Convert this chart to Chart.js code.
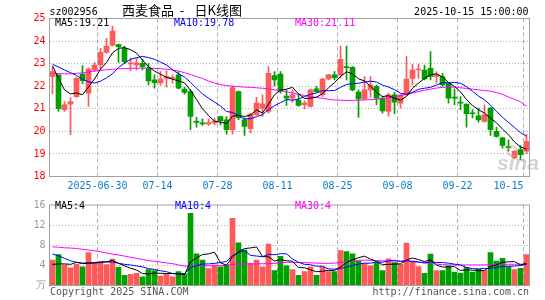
<!DOCTYPE html>
<html><head><meta charset="utf-8">
<script src="https://cdn.jsdelivr.net/npm/chart.js@4/dist/chart.umd.min.js"></script>
<style>
html,body{margin:0;padding:0;background:#fff;}
#wrap{position:relative;width:545px;height:300px;overflow:hidden;background:#fff;}
canvas{position:absolute;left:0;}
#c1{top:0;width:545px;height:195px;}
#c2{top:195px;width:545px;height:105px;}
</style></head><body>
<div id="wrap"><canvas id="c1" width="545" height="195"></canvas><canvas id="c2" width="545" height="105"></canvas></div>
<script>
const dates = ['06-18','06-19','06-20','06-23','06-24','06-25','06-26','06-27','06-30','07-01','07-02','07-03','07-04','07-07','07-08','07-09','07-10','07-11','07-14','07-15','07-16','07-17','07-18','07-21','07-22','07-23','07-24','07-25','07-28','07-29','07-30','07-31','08-01','08-04','08-05','08-06','08-07','08-08','08-11','08-12','08-13','08-14','08-15','08-18','08-19','08-20','08-21','08-22','08-25','08-26','08-27','08-28','08-29','09-01','09-02','09-03','09-04','09-05','09-08','09-09','09-10','09-11','09-12','09-15','09-16','09-17','09-18','09-19','09-22','09-23','09-24','09-25','09-26','09-29','09-30','10-09','10-10','10-13','10-14','10-15'];

const openP = [22.43,22.50,20.96,21.21,21.54,22.54,21.69,22.72,22.94,23.50,
23.82,23.85,23.68,22.99,22.94,23.01,22.82,22.28,22.15,22.35,
22.35,22.50,21.87,21.76,20.43,20.35,20.32,20.37,20.66,20.51,
20.07,21.76,20.51,20.12,20.74,21.03,20.88,22.47,22.54,21.56,
21.47,21.37,21.18,21.10,21.88,21.62,22.32,22.50,22.50,22.87,
22.84,21.74,21.44,21.84,21.99,21.47,20.88,21.62,21.25,21.62,
22.35,22.72,22.72,22.79,22.43,22.43,22.13,21.50,21.28,21.21,
20.81,20.69,20.44,21.03,20.00,19.71,19.31,18.82,19.19,19.12];

const highP = [22.85,22.52,21.32,21.50,22.40,22.91,22.80,23.05,23.68,24.12,
24.66,23.87,23.78,23.25,23.24,23.20,23.00,22.50,22.65,22.68,
22.50,22.65,21.95,21.85,20.62,20.56,20.56,20.59,20.66,20.66,
21.99,21.78,20.60,20.80,21.51,21.62,22.87,22.65,22.65,21.84,
21.84,21.69,21.35,21.88,21.99,22.35,22.53,22.65,23.78,23.78,
22.87,21.84,22.43,22.43,22.06,21.54,21.69,21.74,21.65,23.31,
22.97,22.97,22.94,23.53,22.65,22.57,22.13,21.88,21.54,21.21,
20.96,21.03,21.18,21.06,20.18,19.74,19.63,19.15,19.37,19.88];

const lowP = [21.66,20.88,20.88,19.85,21.50,22.10,21.10,22.65,22.72,23.46,
23.78,23.05,23.00,22.69,22.72,22.72,22.06,21.91,22.03,21.96,
22.13,21.88,21.65,20.07,20.19,20.26,20.26,20.29,20.29,19.88,
19.88,20.52,19.82,19.93,20.72,20.66,20.81,22.01,21.69,21.15,
21.28,21.10,20.99,21.07,21.73,21.54,22.28,22.28,22.35,22.28,
21.79,20.62,21.40,21.50,21.18,20.81,20.66,20.78,21.03,21.59,
22.06,22.35,22.28,22.28,22.13,21.99,21.25,21.18,20.96,20.18,
20.59,20.41,20.41,19.82,19.74,19.26,19.12,18.79,18.75,19.00];

const closeP = [22.65,21.00,21.18,21.32,22.35,22.25,22.76,22.94,23.50,23.78,
24.44,23.75,23.09,23.04,23.04,22.87,22.24,22.16,22.32,22.43,
22.38,21.91,21.72,20.66,20.40,20.33,20.39,20.46,20.47,20.07,
21.94,20.59,20.22,20.76,21.25,21.22,22.57,22.28,21.79,21.47,
21.62,21.15,21.25,21.84,21.76,22.32,22.50,22.38,23.19,22.82,
21.84,21.44,21.84,22.06,21.47,20.91,21.62,21.29,21.62,22.32,
22.72,22.76,22.32,22.43,22.50,22.06,21.47,21.47,21.25,20.78,
20.78,20.51,20.74,20.07,19.78,19.38,19.28,19.12,18.97,19.56];

const ma5 = [22.90,22.35,21.84,21.66,21.70,21.62,21.97,22.32,22.76,23.05,
23.48,23.68,23.71,23.62,23.47,23.16,22.86,22.67,22.53,22.40,
22.31,22.24,22.15,21.82,21.41,21.00,20.70,20.45,20.41,20.34,
20.67,20.71,20.66,20.72,20.95,20.81,21.20,21.62,21.82,21.87,
21.95,21.66,21.46,21.47,21.52,21.66,21.93,22.16,22.43,22.64,
22.55,22.33,22.23,22.00,21.73,21.54,21.58,21.47,21.38,21.55,
21.91,22.14,22.35,22.51,22.55,22.41,22.16,21.99,21.75,21.41,
21.15,20.96,20.81,20.58,20.38,20.10,19.85,19.53,19.31,19.21];

const ma10 = [22.97,22.85,22.72,22.60,22.48,22.30,22.20,22.14,22.22,22.37,
22.55,22.83,23.02,23.19,23.26,23.32,23.27,23.19,23.07,22.94,
22.73,22.55,22.41,22.17,21.91,21.66,21.47,21.30,21.12,20.88,
20.84,20.70,20.55,20.56,20.65,20.74,20.96,21.14,21.27,21.41,
21.38,21.43,21.54,21.64,21.70,21.81,21.80,21.81,21.95,22.08,
22.11,22.13,22.19,22.22,22.19,22.05,21.96,21.85,21.69,21.64,
21.73,21.86,21.91,21.95,22.05,22.16,22.15,22.17,22.13,21.98,
21.78,21.56,21.40,21.16,20.89,20.62,20.40,20.17,19.94,19.78];

const ma30 = [22.56,22.56,22.55,22.55,22.57,22.59,22.63,22.67,22.70,22.73,
22.75,22.77,22.78,22.79,22.80,22.80,22.80,22.79,22.78,22.75,
22.72,22.67,22.60,22.52,22.43,22.34,22.23,22.14,22.07,22.03,
22.00,21.98,21.96,21.95,21.93,21.91,21.88,21.84,21.80,21.75,
21.70,21.64,21.59,21.54,21.50,21.46,21.42,21.39,21.38,21.37,
21.37,21.38,21.39,21.40,21.42,21.45,21.49,21.53,21.58,21.64,
21.70,21.76,21.82,21.87,21.92,21.95,21.96,21.96,21.93,21.90,
21.87,21.84,21.81,21.78,21.72,21.64,21.52,21.42,21.31,21.11];

const volume = [5.04,6.17,4.10,3.53,4.22,3.72,6.55,4.54,4.54,4.16,
5.23,3.59,2.02,2.21,2.40,1.70,3.15,2.97,1.89,2.21,
1.70,2.78,2.34,14.36,6.30,5.04,3.34,4.04,3.72,4.04,
13.35,8.50,7.06,4.42,5.04,3.72,8.25,2.97,5.80,3.91,
3.15,2.02,2.78,3.72,2.02,3.72,2.78,2.78,6.93,6.74,
6.31,4.85,4.35,3.91,4.54,2.97,5.29,4.54,4.22,8.44,
4.85,3.78,2.40,6.24,2.97,2.97,3.91,2.65,2.46,3.59,
2.65,3.28,2.97,6.55,4.85,5.42,3.78,3.15,3.40,6.17];

const volMa5 = [4.20,4.30,4.30,4.20,4.61,4.35,4.42,4.51,4.71,4.70,
5.00,4.41,3.91,3.44,3.09,2.38,2.30,2.49,2.42,2.38,
2.38,2.31,2.18,4.68,5.50,6.16,6.28,6.62,4.49,4.04,
5.70,6.73,7.33,7.47,7.67,5.75,5.70,4.88,5.16,4.93,
4.82,3.57,3.53,3.12,2.74,2.85,3.00,3.00,3.65,4.59,
5.11,5.52,5.84,5.23,4.79,4.12,4.21,4.25,4.31,5.09,
5.47,5.17,4.74,5.14,4.05,3.67,3.70,3.75,2.99,3.12,
3.05,2.93,2.99,3.81,4.06,4.61,4.71,4.75,4.12,4.38];

const volMa10 = [6.25,5.90,5.40,4.90,4.60,4.45,4.50,4.50,4.55,4.66,
4.68,4.42,4.21,4.08,3.90,3.69,3.35,3.20,2.93,2.74,
2.38,2.30,2.34,3.55,3.94,4.27,4.29,4.40,4.58,4.77,
5.93,6.50,6.98,5.98,5.86,5.72,6.21,6.11,6.32,6.30,
5.28,4.63,4.21,4.14,3.83,3.83,3.29,3.27,3.38,3.66,
3.98,4.26,4.42,4.44,4.69,4.62,4.87,5.04,4.77,4.94,
4.80,4.69,4.49,4.73,4.57,4.57,4.43,4.24,4.07,3.58,
3.36,3.31,3.37,3.40,3.59,3.83,3.82,3.87,3.96,4.22];

const volMa30 = [7.69,7.60,7.50,7.45,7.35,7.20,7.05,6.90,6.70,6.45,
6.25,6.05,5.85,5.60,5.40,5.15,4.95,4.80,4.65,4.50,
4.35,4.10,3.85,3.90,3.92,3.92,3.92,3.92,3.95,4.00,
4.20,4.22,4.25,4.28,4.30,4.32,4.35,4.40,4.55,4.60,
4.60,4.58,4.55,4.50,4.45,4.40,4.40,4.45,4.55,4.70,
4.85,5.00,5.05,5.00,4.95,4.90,4.85,4.85,4.85,4.80,
4.70,4.60,4.50,4.40,4.25,4.15,4.10,4.09,4.09,4.09,
4.09,4.09,4.10,4.15,4.20,4.22,4.22,4.22,4.22,4.22];

const dateTickIndex = [8,18,28,38,48,58,68,79];
const dateTickText = ['2025-06-30','07-14','07-28','08-11','08-25','09-08','09-22','10-15'];
const priceRange = [18, 25];
const volumeRange = [0, 16];

const UP = '#ff5a5a', DOWN = '#00a000';
const MONO = '"DejaVu Sans Mono","Liberation Mono",monospace';
const CJK = '"Noto Sans CJK SC","Noto Sans",sans-serif';
const colors = closeP.map((c,i) => c >= openP[i] ? UP : DOWN);
const NONE = 'rgba(0,0,0,0)';

function frame(chart){
  const {ctx, chartArea:a} = chart;
  ctx.save();
  ctx.strokeStyle = '#a0a0a0'; ctx.lineWidth = 1;
  ctx.strokeRect(a.left, a.top, a.right - a.left, a.bottom - a.top);
  ctx.restore();
}
function txt(ctx, s, x, y, color, font, align){
  ctx.font = font; ctx.fillStyle = color; ctx.textAlign = align || 'left'; ctx.textBaseline = 'middle';
  ctx.fillText(s, x, y);
}

const xScaleBase = (dashArr) => ({
  type:'category', offset:true,
  grid:{offset:true, drawTicks:false, lineWidth:1,
    color: c => dateTickIndex.includes(c.index) ? '#b0b0b0' : NONE},
  border:{display:false, dash:dashArr},
  ticks:{display:false, autoSkip:false},
  afterFit: s => { s.height = 0; }
});

const lineDs = (data, color) => ({type:'line', data, borderColor:color, borderWidth:1, pointRadius:0, tension:0, fill:false, order:0});

new Chart(document.getElementById('c1'), {
  type:'bar',
  data:{
    labels: dates,
    datasets:[
      lineDs(ma5,'#000000'),
      lineDs(ma10,'#0000ff'),
      lineDs(ma30,'#ff00ff'),
      {type:'bar', data: openP.map((o,i)=>[o, closeP[i]]), backgroundColor: colors, barThickness:5, minBarLength:1, grouped:false, order:1},
      {type:'bar', data: lowP.map((l,i)=>[l, highP[i]]), backgroundColor: colors, barThickness:1, grouped:false, order:2}
    ]
  },
  options:{
    responsive:false, animation:false, devicePixelRatio:1,
    layout:{padding:{left:0, right:15.5, top:18.5, bottom:18.5}},
    plugins:{legend:{display:false}, tooltip:{enabled:false}},
    scales:{
      x: xScaleBase([4,3]),
      y:{min:priceRange[0], max:priceRange[1],
        ticks:{stepSize:1, color:'#ff0000', font:{family:MONO, size:10}, padding:4},
        grid:{drawTicks:false, color: c => (c.tick && c.tick.value > priceRange[0] && c.tick.value < priceRange[1]) ? '#b0b0b0' : NONE},
        border:{display:false, dash:[1,2]},
        afterFit: s => { s.width = 49.5; }
      }
    }
  },
  plugins:[{
    id:'deco1',
    afterDatasetsDraw(chart){
      frame(chart);
      const ctx = chart.ctx, xs = chart.scales.x;
      ctx.save();
      // watermark
      ctx.font = 'italic bold 21px "Liberation Sans",sans-serif';
      ctx.fillStyle = 'rgba(175,175,175,0.55)'; ctx.textAlign='left'; ctx.textBaseline='alphabetic';
      ctx.fillText('sina', 497, 170);
      ctx.strokeStyle = 'rgba(235,120,120,0.45)'; ctx.lineWidth = 2;
      ctx.beginPath(); ctx.arc(512, 151, 4.5, 0, Math.PI*2); ctx.stroke();
      // title row
      txt(ctx, 'sz002956', 49.5, 12, '#000', '10px '+MONO);
      txt(ctx, '西麦食品', 122, 10.5, '#000', '13px '+CJK);
      txt(ctx, '-', 182, 10.5, '#000', '13px '+CJK, 'center');
      txt(ctx, '日K线图', 194.5, 10.5, '#000', '13px '+CJK);
      txt(ctx, '2025-10-15 15:00:00', 528.5, 12, '#000', '10px '+MONO, 'right');
      // legend
      const n = ma5.length - 1;
      txt(ctx, 'MA5:' + ma5[n].toFixed(2), 55, 23.5, '#000', '10px '+MONO);
      txt(ctx, 'MA10:' + ma10[n].toFixed(2), 174, 23.5, '#0000ff', '10px '+MONO);
      txt(ctx, 'MA30:' + ma30[n].toFixed(2), 295, 23.5, '#ff00ff', '10px '+MONO);
      // date labels under the dashed grid lines
      dateTickIndex.forEach((idx, j) => {
        const gx = xs.getPixelForValue(idx) - 3;
        const last = j === dateTickIndex.length - 1;
        txt(ctx, dateTickText[j], gx, 186, '#0a7cc8', '10px '+MONO, last ? 'right' : 'center');
      });
      ctx.restore();
    }
  }]
});

new Chart(document.getElementById('c2'), {
  type:'bar',
  data:{
    labels: dates,
    datasets:[
      lineDs(volMa5,'#000000'),
      lineDs(volMa10,'#0000ff'),
      lineDs(volMa30,'#ff00ff'),
      {type:'bar', data: volume, backgroundColor: colors, barThickness:5, grouped:false, order:1}
    ]
  },
  options:{
    responsive:false, animation:false, devicePixelRatio:1,
    layout:{padding:{left:0, right:15.5, top:6, bottom:14.5}},
    plugins:{legend:{display:false}, tooltip:{enabled:false}},
    scales:{
      x: xScaleBase([4,3]),
      y:{min:volumeRange[0], max:volumeRange[1],
        ticks:{stepSize:4, color:'#999999', font:{family:MONO, size:10}, padding:4,
          callback: v => v === 0 ? '万' : String(v)},
        grid:{drawTicks:false, color: c => (c.tick && c.tick.value > volumeRange[0] && c.tick.value < volumeRange[1]) ? '#b0b0b0' : NONE},
        border:{display:false, dash:[1,2]},
        afterFit: s => { s.width = 49.5; }
      }
    }
  },
  plugins:[{
    id:'deco2',
    afterDatasetsDraw(chart){
      frame(chart);
      const ctx = chart.ctx;
      ctx.save();
      const n = volMa5.length - 1;
      txt(ctx, 'MA5:' + Math.round(volMa5[n]), 55, 11.5, '#000', '10px '+MONO);
      txt(ctx, 'MA10:' + Math.round(volMa10[n]), 175, 11.5, '#0000ff', '10px '+MONO);
      txt(ctx, 'MA30:' + Math.round(volMa30[n]), 295, 11.5, '#ff00ff', '10px '+MONO);
      txt(ctx, 'Copyright 2025 SINA.COM', 50, 97.5, '#555', '10px '+MONO);
      txt(ctx, 'http://finance.sina.com.cn', 529, 97.5, '#555', '10px '+MONO, 'right');
      ctx.restore();
    }
  }]
});
</script>
</body></html>
